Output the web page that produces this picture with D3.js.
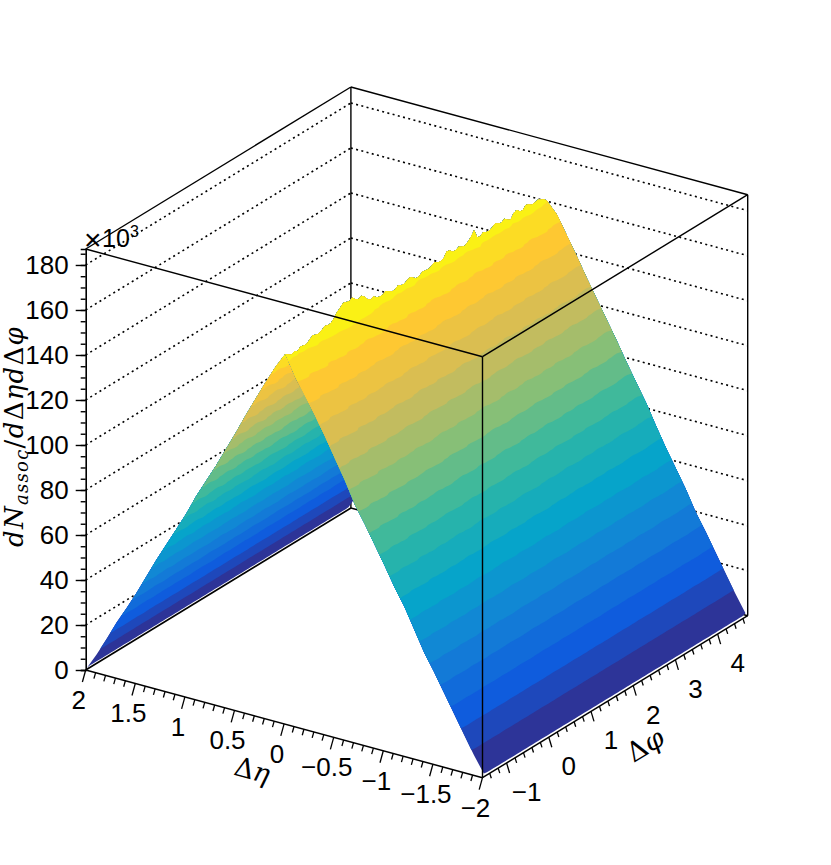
<!DOCTYPE html>
<html lang="en">
<head>
  <meta charset="UTF-8">
  <title>dN assoc surface</title>
  <script src="https://d3js.org/d3.v7.min.js"></script>
  <style>
    body { margin: 0; background: #fff; }
    text { fill: #000; font-family: "Liberation Sans", Arial, sans-serif; }
    .math { font-family: "DejaVu Serif", serif; }
    .math .it { font-style: italic; }
  </style>
</head>
<body>
  <div id="chart"></div>

  <script>
    // yield (in 10^3) along eta, from eta = 2 down to eta = -2
    const etaBins = [2, 1.9, 1.8, 1.7, 1.6, 1.5, 1.4, 1.3, 1.2, 1.1, 1, 0.9, 0.8, 0.7, 0.6, 0.5, 0.4, 0.3, 0.2, 0.1, 0,
      -0.1, -0.2, -0.3, -0.4, -0.5, -0.6, -0.7, -0.8, -0.9, -1, -1.1, -1.2, -1.3, -1.4, -1.5, -1.6, -1.7, -1.8, -1.9, -2];
    const etaProfile = [0.9, 8, 15.6, 24.5, 32, 40.5, 48, 57.5, 65, 73.5, 81.5, 89.5, 98, 106.5, 115, 122.5, 131.5, 140, 148, 156.5, 164,
      156, 148.5, 140, 131, 123, 114.5, 106.5, 98, 90, 81.5, 73.5, 65.5, 57, 49, 41, 33, 25, 17, 9, 1.2];
    // the same profile on the two ends of the phi range
    const nearEdge = [0.6, 8, 16, 24.5, 32, 40, 48.5, 57, 65, 73, 81, 90, 98, 106, 114.5, 123, 132, 140.5, 149, 157, 164,
      155, 147.5, 140, 132, 123.5, 115, 105.5, 98, 90, 82, 73.5, 66, 57, 48, 40.5, 32.5, 24.5, 16.5, 8.5, 1.5];
    const farEdge = [1, 8.5, 16.5, 24, 32.5, 41, 49, 57, 65, 73, 81.5, 90, 98.5, 106, 115, 123, 131, 139, 147.5, 155.5, 161,
      156, 148, 140, 131.5, 123.5, 115.5, 107.5, 99, 91, 83, 74, 65.5, 57.5, 49.5, 40.5, 33, 25, 17, 9, 1.7];
    // top of the ridge (eta = 0) along phi
    const ridgeTop = [164, 163, 162, 162.8, 162, 163.2, 162.8, 162.6, 163.8, 164.9, 164.3, 164, 164.8, 165.7, 165.2, 165.4,
      166.7, 168.6, 169.6, 171, 170.6, 170, 171, 169.4, 168.5, 169.2, 168, 166, 165, 165.6, 164.4, 163.8,
      163.9, 164.8, 163.8, 162.9, 162.8, 163.9, 163.2, 162.9, 163.7, 164.2, 163.2, 162.2, 162.2, 163.4, 163.1, 162.8,
      163.5, 164.3, 163.5, 163, 163.5, 165.8, 165.4, 164, 163.9, 164.6, 163.8, 163.4, 164.3, 165.6, 167.8, 164,
      163.3, 164.5, 163.7, 163.4, 164.2, 165, 164.2, 163.7, 164.6, 163.4, 162.6, 164.6, 165.2, 163.8, 163.4, 165,
      164.4, 163.4, 163.6, 164, 163.2, 162.6, 161];
    // small change along phi on the slopes, in percent
    const phiWiggle = [0, 0.5, -0.6, 0.3, 0.9, -0.4, 0.4, 1, 0.1, 0.8, 0.4, -0.3, 0.6, 1.1, 0.2, -0.5, 0.3, 0.8, -0.2, 0.5,
      1, 0.1, -0.4, 0.6, 1.2, 0.3, -0.2, 0.7, 0.2, -0.6, 0.4, 0.9, 0, 0.6, -0.3, 0.5, 1, 0.2, -0.4, 0.5, 0.8, 0, -0.5, 0.2];

    const zMajor = [0, 20, 40, 60, 80, 100, 120, 140, 160, 180];
    const etaMajor = [2, 1.5, 1, 0.5, 0, -0.5, -1, -1.5, -2];
    const phiMajor = [-1, 0, 1, 2, 3, 4];
    const etaLabels = ["2", "1.5", "1", "0.5", "0", "\u22120.5", "\u22121", "\u22121.5", "\u22122"];
    const phiLabels = ["\u22121", "0", "1", "2", "3", "4"];
    const zGrid = [20, 40, 60, 80, 100, 120, 140, 160, 180];
    // kBird palette stops
    const birdStops = ["#352a87", "#0f5cdd", "#1481d6", "#06a4ca", "#2eb7a4", "#87bf77", "#d1bb59", "#fec832", "#f9fb0e"];
    const bandLevels = [10.5, 18.9, 27.3, 35.7, 44.1, 52.5, 60.9, 69.3, 77.7, 86.1, 94.5, 102.9, 111.3, 119.7, 128.1, 136.5, 144.9, 153.3, 161.2];

    const width = 831, height = 865;
    const etaMin = -2, etaMax = 2, phiMin = -Math.PI / 2, phiMax = 3 * Math.PI / 2, zMax = 187.1;

    const svg = d3.select("#chart").append("svg")
      .attr("width", width)
      .attr("height", height)
      .style("display", "block");

    // oblique box: each data axis moves the point on the screen
    const etaX = d3.scaleLinear().domain([etaMax, etaMin]).range([0, 396.8]);
    const etaY = d3.scaleLinear().domain([etaMax, etaMin]).range([0, 107.7]);
    const phiX = d3.scaleLinear().domain([phiMin, phiMax]).range([0, 265.2]);
    const phiY = d3.scaleLinear().domain([phiMin, phiMax]).range([0, -162]);
    const zY = d3.scaleLinear().domain([0, zMax]).range([0, -421]);
    const ox = 85.7, oy = 670;

    const sx = (eta, phi) => ox + etaX(eta) + phiX(phi);
    const sy = (eta, phi, z) => oy + etaY(eta) + phiY(phi) + zY(z);

    const phiOfBin = d3.scaleLinear().domain([0, ridgeTop.length - 1]).range([-1.54, 4.66]);
    const color = d3.scaleLinear()
      .domain(birdStops.map((d, i) => i / (birdStops.length - 1)))
      .range(birdStops);

    function line3(a, b) {
      return svg.append("line")
        .attr("x1", sx(a[0], a[1])).attr("y1", sy(a[0], a[1], a[2]))
        .attr("x2", sx(b[0], b[1])).attr("y2", sy(b[0], b[1], b[2]))
        .attr("stroke", "#000")
        .attr("stroke-width", 1.4);
    }

    // dotted grid on the two back walls
    zGrid.forEach(z => {
      [[[etaMax, phiMin, z], [etaMax, phiMax, z]], [[etaMax, phiMax, z], [etaMin, phiMax, z]]].forEach(seg => {
        line3(seg[0], seg[1])
          .attr("stroke-width", 1.6)
          .attr("stroke-dasharray", "2 3.4");
      });
    });

    // back edges of the box
    line3([etaMax, phiMin, zMax], [etaMax, phiMax, zMax]);
    line3([etaMax, phiMax, zMax], [etaMin, phiMax, zMax]);
    line3([etaMax, phiMax, 0], [etaMax, phiMax, zMax]);
    line3([etaMin, phiMax, 0], [etaMin, phiMax, zMax]);
    line3([etaMax, phiMin, 0], [etaMax, phiMax, 0]).attr("stroke-width", 1.6);
    line3([etaMax, phiMax, 0], [etaMin, phiMax, 0]);

    // one slope of the surface: eta rows rowA..rowB, contour bands stacked bottom up
    function drawSlope(rowA, rowB) {
      const nx = ridgeTop.length, ny = rowB - rowA + 1;
      const values = [];
      for (let r = rowA; r <= rowB; r++) {
        ridgeTop.forEach((top, j) => {
          if (etaBins[r] === 0) values.push(top);
          else if (j === 0) values.push(nearEdge[r]);
          else if (j === nx - 1) values.push(farEdge[r]);
          else values.push(etaProfile[r] * (1 + phiWiggle[Math.floor(j / 2)] / 100));
        });
      }
      const zAt = (u, v) => {
        const j = Math.min(Math.floor(u), nx - 2), i = Math.min(Math.floor(v), ny - 2);
        const fu = u - j, fv = v - i;
        const a = values[i * nx + j], b = values[i * nx + j + 1];
        const c = values[(i + 1) * nx + j], d = values[(i + 1) * nx + j + 1];
        return (a * (1 - fu) + b * fu) * (1 - fv) + (c * (1 - fu) + d * fu) * fv;
      };
      const toScreen = p => {
        const u = Math.max(0, Math.min(nx - 1, p[0] - 0.5));
        const v = Math.max(0, Math.min(ny - 1, p[1] - 0.5));
        const eta = etaBins[rowA] + (etaBins[rowB] - etaBins[rowA]) * v / (ny - 1);
        const phi = phiOfBin(u);
        return [sx(eta, phi), sy(eta, phi, zAt(u, v))];
      };
      const levels = [0].concat(bandLevels);
      const bands = d3.contours().size([nx, ny]).thresholds(levels)(values);
      bands.forEach((band, k) => {
        let path = "";
        band.coordinates.forEach(poly => poly.forEach(ring => {
          path += "M" + ring.map(p => toScreen(p).map(v => v.toFixed(2)).join(",")).join("L") + "Z";
        }));
        svg.append("path")
          .attr("d", path)
          .attr("fill-rule", "evenodd")
          .attr("fill", color((k + 0.5) / 20));
      });
    }

    const ridgeRow = etaBins.indexOf(0);
    drawSlope(0, ridgeRow);
    drawSlope(ridgeRow, etaBins.length - 1);

    // front edges of the box
    line3([etaMax, phiMin, zMax], [etaMin, phiMin, zMax]);
    line3([etaMin, phiMin, zMax], [etaMin, phiMax, zMax]);
    line3([etaMin, phiMin, 0], [etaMin, phiMin, zMax]);
    line3([etaMax, phiMin, 0], [etaMin, phiMin, 0]).attr("stroke-width", 1.5);
    line3([etaMin, phiMin, 0], [etaMin, phiMax, 0]).attr("stroke-width", 1.5);

    // z axis
    const zAxisScale = d3.scaleLinear().domain([0, zMax]).range([oy, oy - 421]);
    svg.append("g")
      .attr("transform", `translate(${ox},0)`)
      .call(d3.axisLeft(zAxisScale).tickValues(d3.range(0, 186, 5)).tickSize(5).tickFormat(""))
      .call(g => g.selectAll("line").attr("stroke-width", 1.4))
      .call(g => g.select(".domain").attr("stroke-width", 1.6));
    svg.append("g")
      .attr("transform", `translate(${ox},0)`)
      .call(d3.axisLeft(zAxisScale).tickValues(zMajor).tickSize(10).tickPadding(7))
      .call(g => g.select(".domain").remove())
      .call(g => g.selectAll("line").attr("stroke-width", 1.4))
      .call(g => g.selectAll("text").attr("font-size", 26).attr("font-family", "Liberation Sans"));

    // eta and phi ticks hang off the two floor edges
    function tick(x, y, dx, dy) {
      svg.append("line")
        .attr("x1", x).attr("y1", y).attr("x2", x + dx).attr("y2", y + dy)
        .attr("stroke", "#000").attr("stroke-width", 1.3);
    }
    d3.range(-20, 21).forEach(k => {
      const eta = k / 10, major = k % 5 === 0;
      tick(sx(eta, phiMin), sy(eta, phiMin, 0), major ? -3.3 : -1.7, major ? 12 : 6);
    });
    d3.range(-7, 24).forEach(k => {
      const phi = k / 5, major = k % 5 === 0;
      tick(sx(etaMin, phi), sy(etaMin, phi, 0), major ? 3 : 1.6, major ? 10 : 5);
    });

    svg.selectAll(".eta-label")
      .data(etaMajor)
      .enter().append("text")
      .attr("class", "eta-label")
      .attr("x", d => sx(d, phiMin) - 7)
      .attr("y", d => sy(d, phiMin, 0) + 39)
      .attr("text-anchor", "middle")
      .attr("font-size", 26)
      .text((d, i) => etaLabels[i]);

    svg.selectAll(".phi-label")
      .data(phiMajor)
      .enter().append("text")
      .attr("class", "phi-label")
      .attr("x", d => sx(etaMin, d) + 20)
      .attr("y", d => sy(etaMin, d, 0) + 38)
      .attr("text-anchor", "middle")
      .attr("font-size", 26)
      .text((d, i) => phiLabels[i]);

    // exponent
    svg.append("text").attr("x", 84).attr("y", 250).attr("font-size", 30).text("\u00d7");
    svg.append("text").attr("x", 102).attr("y", 247).attr("font-size", 25).text("10");
    svg.append("text").attr("x", 130).attr("y", 237).attr("font-size", 16).text("3");

    // axis titles
    const yTitle = svg.append("text")
      .attr("class", "math")
      .attr("transform", "translate(23,547) rotate(-90)")
      .attr("font-size", 26)
      .attr("letter-spacing", 1.3);
    yTitle.append("tspan").attr("class", "it").text("dN");
    yTitle.append("tspan").attr("class", "it").attr("font-size", 18).attr("dy", 5).text("assoc");
    yTitle.append("tspan").attr("dy", -5).text("/");
    yTitle.append("tspan").attr("class", "it").text("d");
    yTitle.append("tspan").text("\u0394");
    yTitle.append("tspan").attr("class", "it").text("\u03b7d");
    yTitle.append("tspan").text("\u0394");
    yTitle.append("tspan").attr("class", "it").text("\u03c6");

    const etaTitle = svg.append("text")
      .attr("class", "math")
      .attr("transform", "translate(250,779) rotate(15)")
      .attr("text-anchor", "middle")
      .attr("font-size", 27);
    etaTitle.append("tspan").text("\u0394");
    etaTitle.append("tspan").attr("class", "it").text("\u03b7");

    const phiTitle = svg.append("text")
      .attr("class", "math")
      .attr("transform", "translate(650,753) rotate(-31)")
      .attr("text-anchor", "middle")
      .attr("font-size", 27);
    phiTitle.append("tspan").text("\u0394");
    phiTitle.append("tspan").attr("class", "it").text("\u03c6");
  </script>
</body>
</html>
